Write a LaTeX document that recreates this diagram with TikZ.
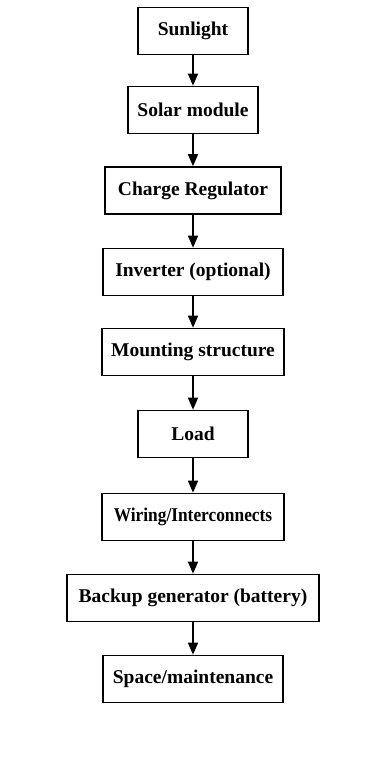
\documentclass[tikz,border=0pt]{standalone}
\usepackage{fontspec}
\setmainfont{Liberation Serif}
\usetikzlibrary{arrows.meta}
\begin{document}
\begin{tikzpicture}[x=1pt,y=-1pt,
  stagebox/.style={draw=black, line width=1.6pt, rectangle, minimum height=47pt,
    inner sep=0pt, font=\fontsize{19.5}{22}\selectfont\bfseries, text=black},
  flow/.style={draw=black, line width=1.4pt, -{Triangle[width=10pt,length=12pt]}}]
  \useasboundingbox (0,0) rectangle (382,771);
  \fill[white] (0,0) rectangle (382,771);

  % stages of the stand-alone PV system, top to bottom
  \node[stagebox, minimum width=110pt] (sun)   at (193,31)  {Sunlight};
  \node[stagebox, minimum width=130pt] (solar) at (193,110) {Solar module};
  \node[stagebox, minimum width=176pt] (reg)   at (193,190.5) {Charge Regulator};
  \node[stagebox, minimum width=180pt] (inv)   at (193,272) {Inverter (optional)};
  \node[stagebox, minimum width=182pt] (mount) at (193,352) {Mounting structure};
  \node[stagebox, minimum width=110pt] (load)  at (193,434) {Load};
  \node[stagebox, minimum width=182pt] (wire)  at (193,517) {\scalebox{0.89}[1]{Wiring/Interconnects}};
  \node[stagebox, minimum width=252pt] (back)  at (193,598) {Backup generator (battery)};
  \node[stagebox, minimum width=180pt] (space) at (193,679) {Space/maintenance};

  % connectors between consecutive stages
  \foreach \a/\b in {sun/solar, solar/reg, reg/inv, inv/mount, mount/load,
                     load/wire, wire/back, back/space}
    \draw[flow] (\a) -- (\b);
\end{tikzpicture}
\end{document}
